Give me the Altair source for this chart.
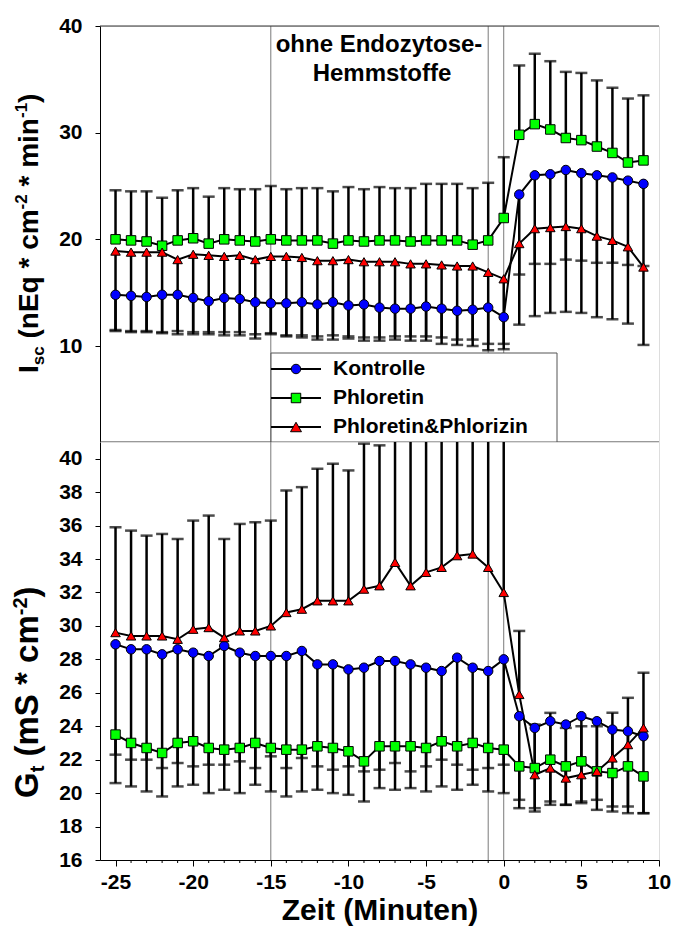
import altair as alt
import pandas as pd

# ---------------- data ----------------
time = list(range(-25, 10))
series_names = ["Kontrolle", "Phloretin", "Phloretin&Phlorizin"]
series_colors = ["#0000ff", "#00ff00", "#ff0000"]
series_shapes = ["circle", "square", "triangle-up"]
series_sizes = [90, 90, 120]

isc_kontrolle = [14.8, 14.7, 14.6, 14.8, 14.8, 14.5, 14.2, 14.5, 14.4, 14.1, 14.0, 14.0, 14.1, 13.9, 14.1, 13.8, 13.9, 13.6,
                 13.5, 13.5, 13.7, 13.5, 13.3, 13.4, 13.6, 12.7, 24.2, 26.0, 26.1, 26.5, 26.2, 26.0, 25.8, 25.5, 25.2]
isc_kontrolle_err = [3.3, 3.3, 3.2, 3.5, 3.4, 3.2, 2.9, 3.2, 3.1, 3.0, 2.8, 3.0, 3.1, 3.0, 3.1, 2.9, 3.1, 2.8,
                     2.6, 2.6, 2.8, 2.7, 2.7, 2.8, 3.4, 2.5, 7.5, 8.3, 8.4, 8.4, 8.2, 8.2, 8.0, 7.9, 7.7]
isc_phloretin = [20.0, 19.9, 19.8, 19.4, 19.9, 20.1, 19.6, 20.0, 19.9, 19.8, 20.0, 19.9, 19.9, 19.9, 19.6, 19.9, 19.8, 19.9,
                 19.9, 19.8, 19.9, 19.9, 19.9, 19.5, 19.9, 22.0, 29.8, 30.8, 30.3, 29.5, 29.3, 28.7, 28.1, 27.2, 27.4]
isc_phloretin_err = [4.6, 4.6, 4.7, 4.5, 4.7, 4.7, 4.4, 4.8, 4.8, 4.9, 5.0, 4.8, 4.9, 4.9, 4.9, 5.0, 4.9, 5.0,
                     4.9, 5.0, 5.3, 5.3, 5.3, 5.3, 5.4, 5.7, 6.5, 6.6, 6.4, 6.2, 6.3, 6.2, 6.1, 6.0, 6.1]
isc_pp = [18.9, 18.8, 18.8, 18.8, 18.1, 18.6, 18.5, 18.4, 18.5, 18.1, 18.4, 18.4, 18.3, 18.0, 18.0, 18.1, 17.9, 17.9,
          17.9, 17.7, 17.7, 17.6, 17.5, 17.5, 16.9, 16.3, 19.6, 21.0, 21.1, 21.2, 21.0, 20.3, 19.9, 19.3, 17.4]
isc_pp_err = [7.5, 7.5, 7.5, 7.6, 7.0, 7.5, 7.4, 7.4, 7.5, 7.4, 7.3, 7.5, 7.5, 7.4, 7.4, 7.4, 7.4, 7.4,
              7.3, 7.2, 7.2, 7.4, 7.4, 7.5, 7.3, 6.6, 7.6, 8.2, 8.0, 8.0, 7.9, 7.6, 7.4, 7.2, 7.3]

gt_kontrolle = [28.9, 28.6, 28.6, 28.3, 28.6, 28.4, 28.2, 28.8, 28.4, 28.2, 28.2, 28.2, 28.5, 27.7, 27.7, 27.4, 27.5, 27.9,
                27.9, 27.7, 27.5, 27.3, 28.1, 27.5, 27.3, 28.0, 24.6, 23.9, 24.3, 24.1, 24.6, 24.3, 23.8, 23.7, 23.4]
gt_kontrolle_err = [8.3, 8.2, 8.5, 8.5, 8.2, 7.9, 8.2, 8.6, 8.4, 7.7, 8.1, 8.4, 8.4, 7.5, 7.7, 7.5, 8.0, 7.6,
                    7.7, 7.4, 7.4, 6.9, 7.9, 7.0, 7.2, 8.0, 5.5, 5.0, 5.0, 4.8, 5.2, 5.3, 4.9, 4.9, 4.6]
gt_phloretin = [23.5, 23.0, 22.7, 22.4, 23.0, 23.1, 22.7, 22.6, 22.7, 23.0, 22.7, 22.6, 22.6, 22.8, 22.7, 22.5, 21.9, 22.8,
                22.8, 22.8, 22.7, 23.1, 22.8, 23.0, 22.7, 22.6, 21.6, 21.5, 22.0, 21.6, 21.9, 21.3, 21.2, 21.6, 21.0]
gt_phloretin_err = [1.2, 1.0, 0.7, 0.9, 1.2, 1.5, 1.0, 0.9, 0.8, 1.5, 0.5, 1.1, 0.5, 1.2, 1.3, 0.9, 0.6, 1.4,
                    1.0, 1.5, 1.1, 1.1, 1.1, 1.6, 1.2, 0.9, 2.0, 2.4, 2.5, 2.3, 2.4, 1.7, 2.0, 2.4, 2.2]
gt_pp = [29.6, 29.4, 29.4, 29.4, 29.2, 29.8, 29.9, 29.3, 29.7, 29.7, 30.0, 30.8, 31.0, 31.5, 31.5, 31.5, 32.2, 32.4,
         33.8, 32.4, 33.2, 33.5, 34.2, 34.3, 33.5, 32.0, 25.9, 21.1, 21.5, 20.9, 21.1, 21.3, 22.1, 22.9, 23.9]
gt_pp_err = [6.3, 6.3, 6.0, 6.1, 6.0, 6.5, 6.7, 5.9, 6.4, 6.5, 6.3, 7.3, 7.3, 7.9, 8.2, 7.8, 8.7, 8.4,
             9.5, 9.5, 9.5, 9.5, 9.5, 9.5, 9.5, 9.5, 3.8, 3.0, 3.3, 3.0, 2.9, 2.7, 2.7, 2.8, 3.3]

marker_times = [-15, -1, 0]
x_major = [-25, -20, -15, -10, -5, 0, 5, 10]
x_minor = [t for t in range(-25, 11) if t % 5 != 0]
isc_ticks = [10, 20, 30, 40]
gt_ticks = list(range(16, 41, 2))
annotation_lines = ["ohne Endozytose-", "Hemmstoffe"]
x_title = "Zeit (Minuten)"
isc_title = [("I", "main"), ("sc", "sub"), (" (nEq * cm", "main"), ("-2", "sup"),
             (" * min", "main"), ("-1", "sup"), (")", "main")]
gt_title = [("G", "main"), ("t", "sub"), (" (mS * cm", "main"), ("-2", "sup"), (")", "main")]

# ---------------- layout / style ----------------
FONT = "Liberation Sans"
W = 559
H1 = 416
H2 = 418
X_DOMAIN = [-26, 10]
TICK_FS = 21
TITLE_X = -62
SUB_SHIFT = 6
SUP_SHIFT = 11

one = pd.DataFrame({"k": [0]})

CHAR_W = {' ': 278, '(': 333, ')': 333, '*': 389, '-': 333, '1': 556, '2': 556, 'E': 667, 'G': 778,
          'I': 278, 'S': 667, 'c': 556, 'e': 556, 'i': 278, 'm': 889, 'n': 611, 'q': 611, 's': 556, 't': 333}


def text_w(s, size):
    return sum(CHAR_W.get(c, 556) for c in s) / 1000.0 * size


def title_layers(pieces, y0, main_size, small_size):
    layers = []
    off = 0.0
    for txt, kind in pieces:
        size = main_size if kind == "main" else small_size
        dx = {"main": 0, "sub": SUB_SHIFT, "sup": -SUP_SHIFT}[kind]
        stripped = txt.lstrip(" ")
        lead = text_w(txt[: len(txt) - len(stripped)], size)
        layers.append(
            alt.Chart(one).mark_text(angle=270, align="left", baseline="alphabetic", fontSize=size,
                                     fontWeight="bold", font=FONT, color="black")
            .encode(text=alt.value(stripped), x=alt.value(TITLE_X + dx), y=alt.value(y0 - off - lead))
        )
        off += text_w(txt, size)
    return layers


def build_df(means, errs, dirs):
    rows = []
    for name, m, e, d in zip(series_names, means, errs, dirs):
        for t, mv, ev in zip(time, m, e):
            rows.append({"t": t, "series": name, "mean": mv, "end": round(mv + d * ev, 2)})
    return pd.DataFrame(rows)


def panel(df, domain, ticks, clip, x_axis):
    xsc = alt.Scale(domain=X_DOMAIN, nice=False, zero=False)
    ysc = alt.Scale(domain=domain, nice=False, zero=False)
    yaxis = alt.Axis(values=ticks, title=None, labelFontSize=TICK_FS, labelFontWeight="bold", labelFont=FONT,
                     labelColor="black", tickSize=5, tickColor="black", domainColor="black", labelPadding=13,
                     grid=False, labelOverlap=False)
    X = lambda: alt.X("t:Q", scale=xsc, axis=x_axis)
    base = alt.Chart(df)
    vlines = alt.Chart(pd.DataFrame({"t": marker_times})).mark_rule(color="#7a7a7a", strokeWidth=1).encode(x=X())
    bars = base.mark_rule(color="black", strokeWidth=2.5, clip=clip).encode(
        x=X(), y=alt.Y("mean:Q", scale=ysc, axis=yaxis), y2="end:Q")
    caps = base.mark_tick(color="black", orient="horizontal", size=12, thickness=2.5, clip=clip).encode(
        x=X(), y=alt.Y("end:Q", scale=ysc, axis=yaxis))
    lines = base.mark_line(color="black", strokeWidth=2).encode(
        x=X(), y=alt.Y("mean:Q", scale=ysc, axis=yaxis), detail="series:N")
    pts = base.mark_point(filled=True, stroke="black", strokeWidth=1, opacity=1).encode(
        x=X(), y=alt.Y("mean:Q", scale=ysc, axis=yaxis),
        shape=alt.Shape("series:N", scale=alt.Scale(domain=series_names, range=series_shapes), legend=None),
        fill=alt.Fill("series:N", scale=alt.Scale(domain=series_names, range=series_colors), legend=None),
        size=alt.Size("series:N", scale=alt.Scale(domain=series_names, range=series_sizes), legend=None))
    return [vlines, bars, caps, lines, pts], X


top_df = build_df([isc_kontrolle, isc_phloretin, isc_pp], [isc_kontrolle_err, isc_phloretin_err, isc_pp_err],
                  [-1, 1, -1])
bot_df = build_df([gt_kontrolle, gt_phloretin, gt_pp], [gt_kontrolle_err, gt_phloretin_err, gt_pp_err],
                  [-1, -1, 1])

# ----- top panel -----
top_layers, _ = panel(top_df, [1, 40], isc_ticks, False, None)

frame_top = [
    alt.Chart(one).mark_rule(color="#333333", strokeWidth=1).encode(
        x=alt.value(0), x2=alt.value(W), y=alt.value(0)),
    alt.Chart(one).mark_rule(color="#333333", strokeWidth=1).encode(
        x=alt.value(0), x2=alt.value(W), y=alt.value(H1)),
]

# legend
LX0, LX1, LY0, LY1 = 171, 457, 327, H1
row_y = [343, 372, 401]
legend_layers = [
    alt.Chart(one).mark_rect(fill="white", stroke="#555555", strokeWidth=1).encode(
        x=alt.value(LX0), x2=alt.value(LX1), y=alt.value(LY0), y2=alt.value(LY1))
]
for i, name in enumerate(series_names):
    legend_layers.append(alt.Chart(one).mark_rule(color="black", strokeWidth=2).encode(
        x=alt.value(LX0), x2=alt.value(LX0 + 50), y=alt.value(row_y[i])))
    legend_layers.append(alt.Chart(one).mark_point(filled=True, stroke="black", strokeWidth=1, opacity=1).encode(
        x=alt.value(LX0 + 25), y=alt.value(row_y[i]), shape=alt.value(series_shapes[i]),
        fill=alt.value(series_colors[i]), size=alt.value(series_sizes[i])))
    legend_layers.append(alt.Chart(one).mark_text(align="left", baseline="middle", fontSize=21, fontWeight="bold",
                                                  font=FONT, color="black").encode(
        x=alt.value(LX0 + 62), y=alt.value(row_y[i]), text=alt.value(name)))

annot = [
    alt.Chart(one).mark_text(align="center", baseline="alphabetic", fontSize=24, fontWeight="bold", font=FONT,
                             color="black").encode(x=alt.value(279), y=alt.value(26), text=alt.value(annotation_lines[0])),
    alt.Chart(one).mark_text(align="center", baseline="alphabetic", fontSize=24, fontWeight="bold", font=FONT,
                             color="black").encode(x=alt.value(282), y=alt.value(55), text=alt.value(annotation_lines[1])),
]

anchor = alt.Chart(one).mark_rule(opacity=0).encode(
    x=alt.value(-99), x2=alt.value(-99), y=alt.value(-25), y2=alt.value(-24))

top = alt.layer(*(top_layers + frame_top + legend_layers + annot + title_layers(isc_title, 347, 28, 17) + [anchor])
                ).properties(width=W, height=H1)

# ----- bottom panel -----
xaxis = alt.Axis(values=x_major, title=x_title, labelFontSize=TICK_FS, labelFontWeight="bold", labelFont=FONT,
                 labelColor="black", titleFontSize=30, titleFontWeight="bold", titleFont=FONT, titleColor="black",
                 tickSize=6, tickColor="black", domainColor="black", labelPadding=5, titlePadding=3, grid=False,
                 labelOverlap=False, labelFlush=False, labelExpr="'' + datum.value")
bot_layers, BX = panel(bot_df, [16, 41], gt_ticks, True, xaxis)
minor = alt.Chart(pd.DataFrame({"t": x_minor})).mark_rule(color="black", strokeWidth=1).encode(
    x=BX(), y=alt.value(H2), y2=alt.value(H2 + 3))

bottom = alt.layer(*(bot_layers + [minor] + title_layers(gt_title, 356, 33, 20))).properties(width=W, height=H2)

chart = alt.vconcat(top, bottom, spacing=0, bounds="flush").properties(
    padding={"left": 0, "top": 0, "right": 0, "bottom": 0}
).configure_view(stroke=None).configure(font=FONT)

chart.save("out.html", embed_options={"renderer": "svg", "actions": False})
